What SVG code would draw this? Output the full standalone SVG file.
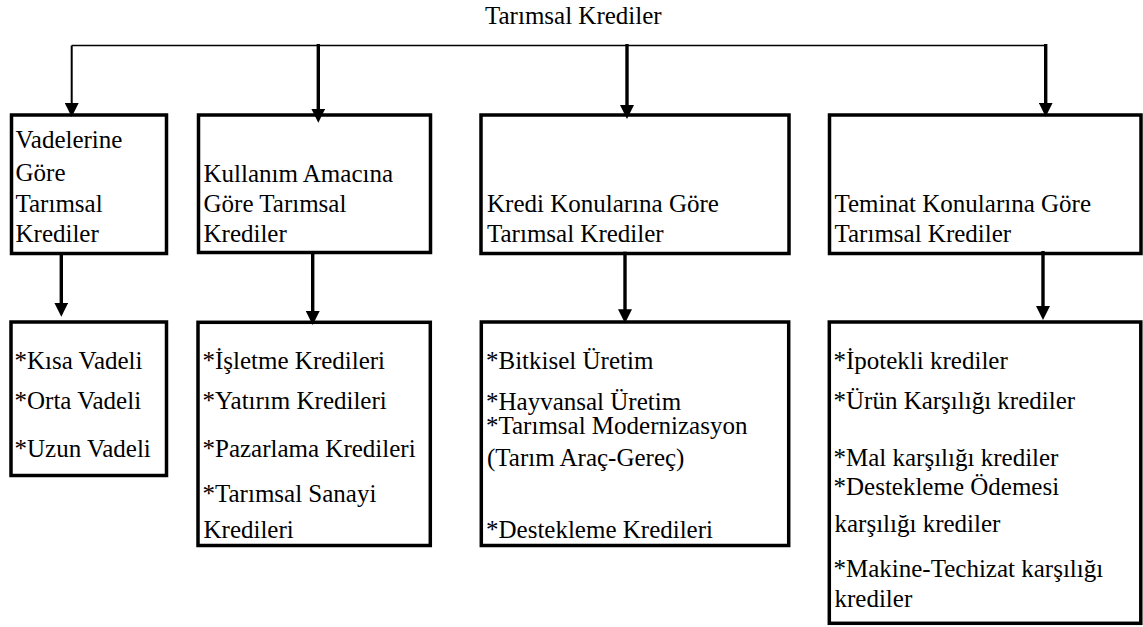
<svg xmlns="http://www.w3.org/2000/svg" width="1143" height="627" viewBox="0 0 1143 627">
  <style>
    .lbl { font-family: 'Liberation Serif', 'Times New Roman', Times, 'DejaVu Serif', serif; font-size: 25px; fill: #000; }
    .box { fill: #fff; stroke: #000; stroke-width: 3.5; }
    .bus { fill: none; stroke: #000; stroke-width: 1.6; }
    .arr { fill: none; stroke: #000; stroke-width: 3.4; marker-end: url(#head); }
    .arr.thin { stroke-width: 2; }
  </style>
  <defs>
    <marker id="head" viewBox="0 0 14 14" refX="7" refY="7" markerWidth="14" markerHeight="14" markerUnits="userSpaceOnUse" orient="auto">
      <path d="M0,0 L14,7 L0,14 z" fill="#000"/>
    </marker>
  </defs>

  <rect width="1143" height="627" fill="#fff"/>

  <g class="lbl" font-family="'Liberation Serif', 'Times New Roman', serif" font-size="25">
  <g id="root">
    <text x="485" y="24">Tarımsal Krediler</text>
  </g>

  <g id="by-term">
    <rect class="box" x="11.5" y="115" width="155" height="138.5"/>
    <text x="15.5" y="148">Vadelerine</text>
    <text x="15.5" y="181">Göre</text>
    <text x="15.5" y="211.5">Tarımsal</text>
    <text x="15.5" y="242">Krediler</text>
  </g>

  <g id="by-purpose">
    <rect class="box" x="198.5" y="115" width="232" height="137.5"/>
    <text x="203.5" y="181.5">Kullanım Amacına</text>
    <text x="203.5" y="211.5">Göre Tarımsal</text>
    <text x="203.5" y="242">Krediler</text>
  </g>

  <g id="by-subject">
    <rect class="box" x="481" y="115" width="308" height="138.5"/>
    <text x="487" y="211.5">Kredi Konularına Göre</text>
    <text x="487" y="241.5">Tarımsal Krediler</text>
  </g>

  <g id="by-collateral">
    <rect class="box" x="829.5" y="115" width="311.5" height="138.5"/>
    <text x="834.5" y="211.5">Teminat Konularına Göre</text>
    <text x="834.5" y="241.5">Tarımsal Krediler</text>
  </g>

  <g id="term-list">
    <rect class="box" x="11" y="322" width="155.5" height="153.5"/>
    <text x="14.5" y="368.5">*Kısa Vadeli</text>
    <text x="14.5" y="409">*Orta Vadeli</text>
    <text x="14.5" y="456.5">*Uzun Vadeli</text>
  </g>

  <g id="purpose-list">
    <rect class="box" x="198" y="322.3" width="232.3" height="223.2"/>
    <text x="202.5" y="368.5">*İşletme Kredileri</text>
    <text x="202.5" y="409">*Yatırım Kredileri</text>
    <text x="202.5" y="456.5">*Pazarlama Kredileri</text>
    <text x="202.5" y="502">*Tarımsal Sanayi</text>
    <text x="203.5" y="538">Kredileri</text>
  </g>

  <g id="subject-list">
    <rect class="box" x="481.3" y="322" width="307.4" height="223.5"/>
    <text x="486" y="368.5">*Bitkisel Üretim</text>
    <text x="486" y="409.5">*Hayvansal Üretim</text>
    <text x="486" y="433.5">*Tarımsal Modernizasyon</text>
    <text x="487" y="466">(Tarım Araç-Gereç)</text>
    <text x="486" y="538">*Destekleme Kredileri</text>
  </g>

  <g id="collateral-list">
    <rect class="box" x="829.3" y="322" width="311.5" height="301.3"/>
    <text x="833.5" y="368.5">*İpotekli krediler</text>
    <text x="833.5" y="409">*Ürün Karşılığı krediler</text>
    <text x="833.5" y="466">*Mal karşılığı krediler</text>
    <text x="833.5" y="494.5">*Destekleme Ödemesi</text>
    <text x="834.5" y="532">karşılığı krediler</text>
    <text x="833.5" y="577">*Makine-Techizat karşılığı</text>
    <text x="834.5" y="607">krediler</text>
  </g>
  </g>

  <g id="connectors">
    <!-- distribution bus under the title -->
    <line class="bus" x1="71.7" y1="45.5" x2="1045.7" y2="45.5"/>
    <!-- bus to the four category boxes -->
    <line class="arr thin" x1="71.7" y1="45.5" x2="71.7" y2="110"/>
    <line class="arr" x1="318.3" y1="44" x2="318.3" y2="115.7"/>
    <line class="arr" x1="627" y1="44" x2="627" y2="112"/>
    <line class="arr" x1="1045.7" y1="44" x2="1045.7" y2="109.7"/>
    <!-- category boxes to their lists -->
    <line class="arr" x1="61.3" y1="255" x2="61.3" y2="309.7"/>
    <line class="arr" x1="312.7" y1="251" x2="312.7" y2="318"/>
    <line class="arr" x1="625" y1="251.7" x2="625" y2="316.3"/>
    <line class="arr" x1="1043" y1="251" x2="1043" y2="313"/>
  </g>
</svg>
